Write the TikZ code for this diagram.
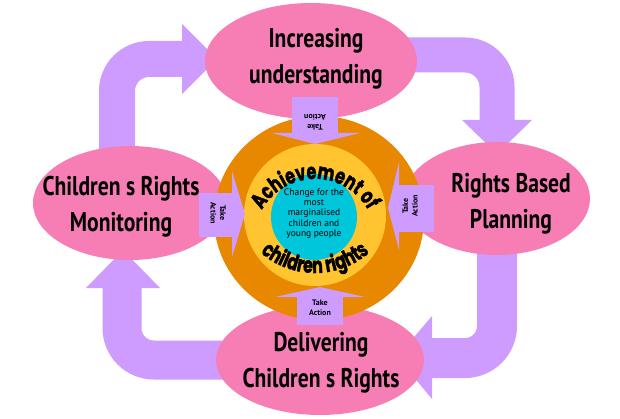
\documentclass[tikz,border=0pt]{standalone}
\usepackage{fontspec}
\setmainfont{PT Sans}
\newfontfamily\labelfont{PT Sans}[FakeStretch=0.8]
\newfontfamily\smallfont{PT Sans}
\newfontfamily\heavyfont{Poppins}[FakeStretch=0.72, FakeBold=1.5]
\usetikzlibrary{shapes.geometric,decorations.text}
\definecolor{pinkc}{RGB}{247,126,181}
\definecolor{purp}{RGB}{206,156,255}
\definecolor{orng}{RGB}{232,136,0}
\definecolor{yell}{RGB}{255,196,48}
\definecolor{cyanc}{RGB}{0,198,220}
\begin{document}
\begin{tikzpicture}[x=1pt,y=1pt,
  ell/.style={ellipse, fill=pinkc, inner sep=0pt},
  disc/.style={ellipse, inner sep=0pt},
  shaft/.style={draw=purp, line width=#1, rounded corners=32pt},
  bighead/.style={fill=purp},
  tabox/.style={fill=purp},
  lbl/.style={font=\labelfont\bfseries\fontsize{27}{36}\selectfont, align=center, inner sep=0pt},
  ta/.style={font=\smallfont\bfseries\fontsize{8}{9.5}\selectfont, align=center, inner sep=0pt},
  ctext/.style={font=\smallfont\fontsize{9.5}{10.4}\selectfont, align=center, inner sep=0pt},
  curved/.style={decorate, decoration={text along path, text align=center, text={|\heavyfont\bfseries\fontsize{22}{22}\selectfont|#1}}}
]
\useasboundingbox[fill=white] (0,0) rectangle (620,418);

% big cycle arrows
\coordinate (a1s) at (117,255); \coordinate (a1c) at (117,359); \coordinate (a1e) at (182,359);
\coordinate (a2s) at (400,363); \coordinate (a2c) at (497,363); \coordinate (a2e) at (497,298);
\coordinate (a3s) at (497,178); \coordinate (a3c) at (497,60);  \coordinate (a3e) at (432,60);
\coordinate (a4s) at (225,58);  \coordinate (a4c) at (122,58);  \coordinate (a4e) at (122,130);
\draw[shaft=36] (a1s) -- (a1c) -- (a1e);
\fill[bighead] (182,394) -- (217,359) -- (182,324) -- cycle;
\draw[shaft=35] (a2s) -- (a2c) -- (a2e);
\fill[bighead] (462,298) -- (532,298) -- (497,264) -- cycle;
\draw[shaft=40] (a3s) -- (a3c) -- (a3e);
\fill[bighead] (432,102) -- (397,61) -- (432,19) -- cycle;
\draw[shaft=39] (a4s) -- (a4c) -- (a4e);
\fill[bighead] (86,130) -- (160,130) -- (123,168) -- cycle;

% pink ellipses
\node[ell, minimum width=212, minimum height=116] (top) at (311,357) {};
\node[ell, minimum width=186, minimum height=113] (right) at (497,219.5) {};
\node[ell, minimum width=194, minimum height=114] (left) at (130,215) {};
\node[ell, minimum width=208, minimum height=110] (bottom) at (320,58) {};

% central discs
\node[disc, fill=orng, minimum width=210, minimum height=204] (ring) at (319,200) {};
\node[disc, fill=yell, minimum width=142, minimum height=142] (inner) at (315,203) {};
\node[disc, fill=cyanc, minimum width=86, minimum height=86] (core) at (314,201) {};

\path[curved={Achievement of}] (315,178) ++(157:61) arc[start angle=157, end angle=23, radius=61];
\path[curved={children rights}] (315,228) ++(214:83) arc[start angle=214, end angle=326, radius=83];

\node[ctext] (change) at (314,204.5) {Change for the\\most\\marginalised\\children and\\young people};

% take action arrows
\fill[tabox] (292,321) rectangle (338,285);
\fill[tabox] (272,285) -- (360,285) -- (315,274) -- cycle;
\node[ta, rotate=180] (tatop) at (315,296) {Take\\Action};

\fill[tabox] (297,121) rectangle (343,93);
\fill[tabox] (275,121) -- (365,121) -- (320,131) -- cycle;
\node[ta] (tabot) at (320,110) {Take\\Action};

\fill[tabox] (199,225) rectangle (233,181);
\fill[tabox] (232,247) -- (245,204) -- (232,161) -- cycle;
\node[ta, rotate=-90] (taleft) at (218,205) {Take\\Action};

\fill[tabox] (398,233) rectangle (434,186);
\fill[tabox] (399,256) -- (388,210) -- (399,168) -- cycle;
\node[ta, rotate=90] (taright) at (410,212) {Take\\Action};

% labels
\node[lbl] (ltop) at (316,359.5) {Increasing\\understanding};
\node[lbl] (lright) at (511,214.5) {Rights Based\\Planning};
\node[lbl] (lleft) at (121,211) {Children s Rights\\Monitoring};
\node[lbl] (lbot) at (321,55) {Delivering\\Children s Rights};
\end{tikzpicture}
\end{document}
